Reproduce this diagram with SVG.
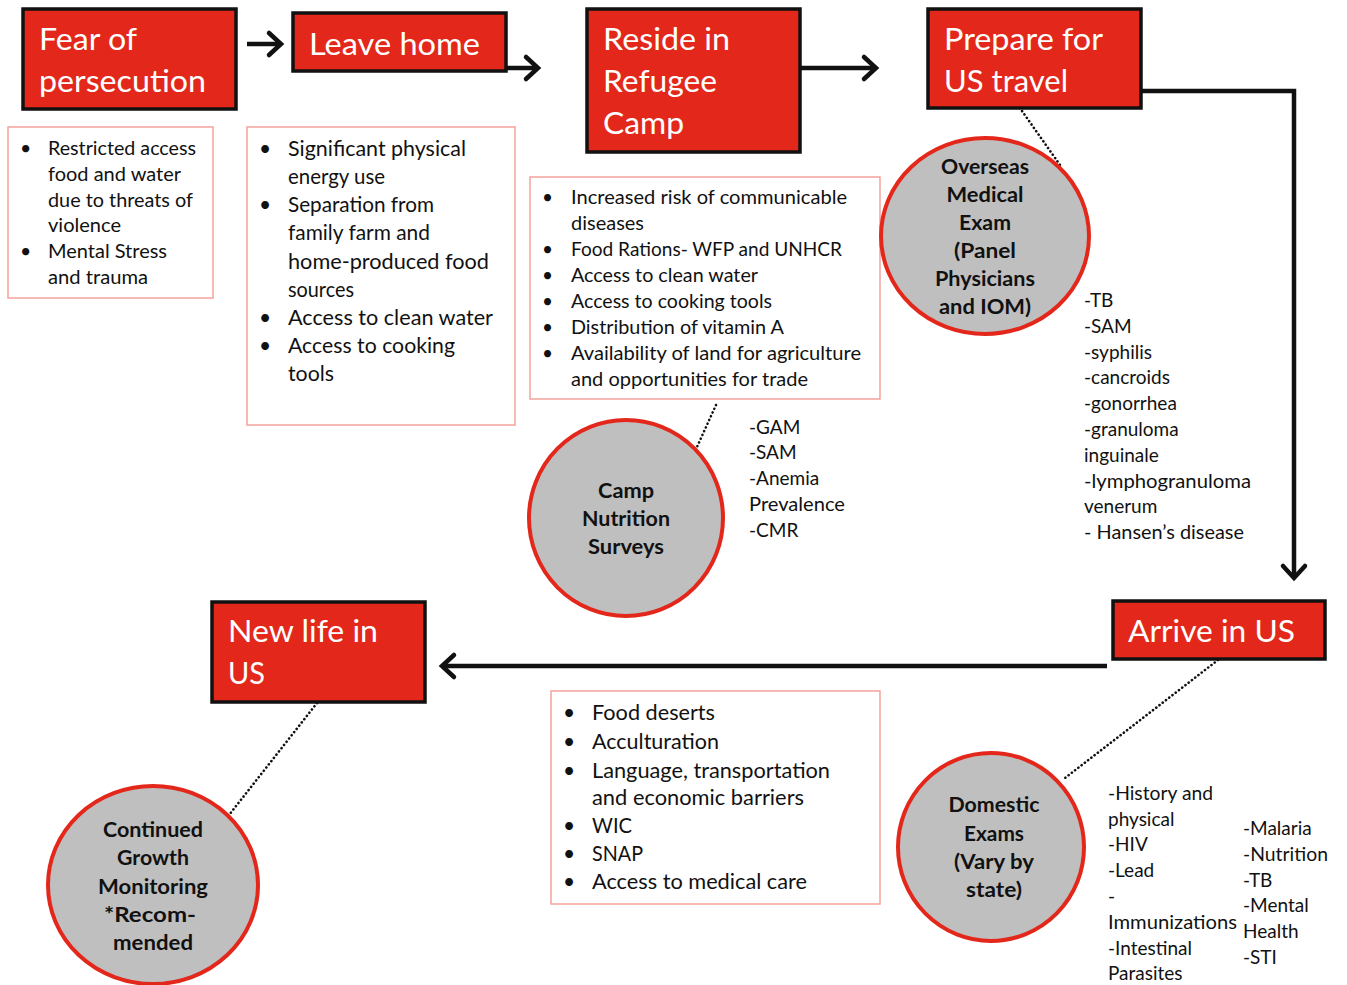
<svg xmlns="http://www.w3.org/2000/svg" width="1347" height="985" viewBox="0 0 1347 985">
<defs>
<style>
.box{fill:#e3281b;stroke:#111;stroke-width:3.5}
.title{font-family:Lato,"Liberation Sans",sans-serif;font-size:30px;fill:#fff}
.note{fill:#fff;stroke:#f3a39c;stroke-width:1.5}
.t{font-family:Lato,"Liberation Sans",sans-serif;fill:#111}
.c{fill:#bfbfbf;stroke:#e3281b;stroke-width:4}
.ct{font-family:Lato,"Liberation Sans",sans-serif;font-weight:bold;font-size:20px;fill:#111;text-anchor:middle}
.arr{fill:none;stroke:#111;stroke-width:4.5}
.dot{fill:none;stroke:#111;stroke-width:2.6;stroke-dasharray:0.1 4;stroke-linecap:round}
</style>
<marker id="ah" markerUnits="userSpaceOnUse" markerWidth="30" markerHeight="30" viewBox="-16 -15 20 30" refX="0" refY="0" orient="auto">
<path d="M-12,-11 L0,0 L-12,11" fill="none" stroke="#111" stroke-width="4.5" stroke-linecap="round" stroke-linejoin="miter"/>
</marker>
</defs>
<rect width="1347" height="985" fill="#fff"/>

<g id="connectors">
<line class="arr" x1="247" y1="44" x2="281" y2="44" marker-end="url(#ah)"/>
<line class="arr" x1="506" y1="68" x2="538" y2="68" marker-end="url(#ah)"/>
<line class="arr" x1="800" y1="68" x2="876" y2="68" marker-end="url(#ah)"/>
<polyline class="arr" points="1141,91 1294,91 1294,578" marker-end="url(#ah)"/>
<line class="arr" x1="1107" y1="666" x2="442" y2="666" marker-end="url(#ah)"/>
<line class="dot" x1="1015" y1="101" x2="1060" y2="165"/>
<line class="dot" x1="716" y1="405" x2="697" y2="447"/>
<line class="dot" x1="317" y1="703" x2="229" y2="815"/>
<line class="dot" x1="1218" y1="660" x2="1065" y2="778"/>
</g>

<g id="fear">
<rect class="box" x="23" y="9" width="213" height="100"/>
<text class="title" x="39" y="50" textLength="98" lengthAdjust="spacingAndGlyphs">Fear of</text>
<text class="title" x="39" y="92" textLength="167" lengthAdjust="spacingAndGlyphs">persecution</text>
</g>
<g id="leave">
<rect class="box" x="293" y="13" width="213" height="58"/>
<text class="title" x="309" y="55" textLength="171" lengthAdjust="spacingAndGlyphs">Leave home</text>
</g>
<g id="reside">
<rect class="box" x="587" y="9" width="213" height="143"/>
<text class="title" x="603" y="50" textLength="127" lengthAdjust="spacingAndGlyphs">Reside in</text>
<text class="title" x="603" y="92" textLength="114" lengthAdjust="spacingAndGlyphs">Refugee</text>
<text class="title" x="603" y="134" textLength="81" lengthAdjust="spacingAndGlyphs">Camp</text>
</g>
<g id="prepare">
<rect class="box" x="928" y="9" width="213" height="99"/>
<text class="title" x="944" y="50" textLength="159" lengthAdjust="spacingAndGlyphs">Prepare for</text>
<text class="title" x="944" y="92" textLength="124" lengthAdjust="spacingAndGlyphs">US travel</text>
</g>
<g id="newlife">
<rect class="box" x="212" y="602" width="213" height="100"/>
<text class="title" x="228" y="642" textLength="150" lengthAdjust="spacingAndGlyphs">New life in</text>
<text class="title" x="228" y="684" textLength="37" lengthAdjust="spacingAndGlyphs">US</text>
</g>
<g id="arrive">
<rect class="box" x="1113" y="601" width="212" height="58"/>
<text class="title" x="1128" y="642" textLength="167" lengthAdjust="spacingAndGlyphs">Arrive in US</text>
</g>

<g id="note1">
<rect class="note" x="8" y="127" width="205" height="171"/>
<g class="t" font-size="19.5">
<text x="20" y="155">•</text><text x="20" y="258">•</text>
<text x="48" y="155" textLength="148" lengthAdjust="spacingAndGlyphs">Restricted access</text>
<text x="48" y="181" textLength="133" lengthAdjust="spacingAndGlyphs">food and water</text>
<text x="48" y="207" textLength="145" lengthAdjust="spacingAndGlyphs">due to threats of</text>
<text x="48" y="232" textLength="73" lengthAdjust="spacingAndGlyphs">violence</text>
<text x="48" y="258" textLength="119" lengthAdjust="spacingAndGlyphs">Mental Stress</text>
<text x="48" y="284" textLength="100" lengthAdjust="spacingAndGlyphs">and trauma</text>
</g>
</g>

<g id="note2">
<rect class="note" x="247" y="127" width="268" height="298"/>
<g class="t" font-size="21">
<text x="259" y="156">•</text><text x="259" y="212">•</text><text x="259" y="325">•</text><text x="259" y="353">•</text>
<text x="288" y="156" textLength="178" lengthAdjust="spacingAndGlyphs">Significant physical</text>
<text x="288" y="184" textLength="97" lengthAdjust="spacingAndGlyphs">energy use</text>
<text x="288" y="212" textLength="146" lengthAdjust="spacingAndGlyphs">Separation from</text>
<text x="288" y="240" textLength="142" lengthAdjust="spacingAndGlyphs">family farm and</text>
<text x="288" y="269" textLength="201" lengthAdjust="spacingAndGlyphs">home-produced food</text>
<text x="288" y="297" textLength="66" lengthAdjust="spacingAndGlyphs">sources</text>
<text x="288" y="325" textLength="205" lengthAdjust="spacingAndGlyphs">Access to clean water</text>
<text x="288" y="353" textLength="167" lengthAdjust="spacingAndGlyphs">Access to cooking</text>
<text x="288" y="381" textLength="46" lengthAdjust="spacingAndGlyphs">tools</text>
</g>
</g>

<g id="note3">
<rect class="note" x="530" y="177" width="350" height="222"/>
<g class="t" font-size="19">
<text x="542" y="204">•</text><text x="542" y="256">•</text><text x="542" y="282">•</text><text x="542" y="308">•</text><text x="542" y="334">•</text><text x="542" y="360">•</text>
<text x="571" y="204" textLength="276" lengthAdjust="spacingAndGlyphs">Increased risk of communicable</text>
<text x="571" y="230" textLength="73" lengthAdjust="spacingAndGlyphs">diseases</text>
<text x="571" y="256" textLength="271" lengthAdjust="spacingAndGlyphs">Food Rations- WFP and UNHCR</text>
<text x="571" y="282" textLength="187" lengthAdjust="spacingAndGlyphs">Access to clean water</text>
<text x="571" y="308" textLength="201" lengthAdjust="spacingAndGlyphs">Access to cooking tools</text>
<text x="571" y="334" textLength="213" lengthAdjust="spacingAndGlyphs">Distribution of vitamin A</text>
<text x="571" y="360" textLength="290" lengthAdjust="spacingAndGlyphs">Availability of land for agriculture</text>
<text x="571" y="386" textLength="237" lengthAdjust="spacingAndGlyphs">and opportunities for trade</text>
</g>
</g>

<g id="note4">
<rect class="note" x="551" y="691" width="329" height="213"/>
<g class="t" font-size="21">
<text x="563" y="720">•</text><text x="563" y="749">•</text><text x="563" y="778">•</text><text x="563" y="833">•</text><text x="563" y="861">•</text><text x="563" y="889">•</text>
<text x="592" y="720" textLength="123" lengthAdjust="spacingAndGlyphs">Food deserts</text>
<text x="592" y="749" textLength="127" lengthAdjust="spacingAndGlyphs">Acculturation</text>
<text x="592" y="778" textLength="238" lengthAdjust="spacingAndGlyphs">Language, transportation</text>
<text x="592" y="805" textLength="212" lengthAdjust="spacingAndGlyphs">and economic barriers</text>
<text x="592" y="833" textLength="40" lengthAdjust="spacingAndGlyphs">WIC</text>
<text x="592" y="861" textLength="51" lengthAdjust="spacingAndGlyphs">SNAP</text>
<text x="592" y="889" textLength="215" lengthAdjust="spacingAndGlyphs">Access to medical care</text>
</g>
</g>

<g id="overseas">
<ellipse class="c" cx="985" cy="236" rx="104" ry="98"/>
<text class="ct" x="985" y="174" textLength="88" lengthAdjust="spacingAndGlyphs">Overseas</text>
<text class="ct" x="985" y="202" textLength="77" lengthAdjust="spacingAndGlyphs">Medical</text>
<text class="ct" x="985" y="230" textLength="52" lengthAdjust="spacingAndGlyphs">Exam</text>
<text class="ct" x="985" y="258" textLength="62" lengthAdjust="spacingAndGlyphs">(Panel</text>
<text class="ct" x="985" y="286" textLength="100" lengthAdjust="spacingAndGlyphs">Physicians</text>
<text class="ct" x="985" y="314" textLength="92" lengthAdjust="spacingAndGlyphs">and IOM)</text>
</g>
<g id="camp">
<ellipse class="c" cx="626" cy="518" rx="97" ry="98"/>
<text class="ct" x="626" y="498" textLength="56" lengthAdjust="spacingAndGlyphs">Camp</text>
<text class="ct" x="626" y="526" textLength="88" lengthAdjust="spacingAndGlyphs">Nutrition</text>
<text class="ct" x="626" y="554" textLength="76" lengthAdjust="spacingAndGlyphs">Surveys</text>
</g>
<g id="growth">
<ellipse class="c" cx="153" cy="885" rx="105" ry="99"/>
<text class="ct" x="153" y="837" textLength="100" lengthAdjust="spacingAndGlyphs">Continued</text>
<text class="ct" x="153" y="865" textLength="72" lengthAdjust="spacingAndGlyphs">Growth</text>
<text class="ct" x="153" y="894" textLength="110" lengthAdjust="spacingAndGlyphs">Monitoring</text>
<text class="ct" x="150" y="922" textLength="92" lengthAdjust="spacingAndGlyphs">*Recom-</text>
<text class="ct" x="153" y="950" textLength="80" lengthAdjust="spacingAndGlyphs">mended</text>
</g>
<g id="domestic">
<ellipse class="c" cx="991" cy="847" rx="93" ry="94"/>
<text class="ct" x="994" y="812" textLength="91" lengthAdjust="spacingAndGlyphs">Domestic</text>
<text class="ct" x="994" y="841" textLength="60" lengthAdjust="spacingAndGlyphs">Exams</text>
<text class="ct" x="994" y="869" textLength="80" lengthAdjust="spacingAndGlyphs">(Vary by</text>
<text class="ct" x="994" y="897" textLength="56" lengthAdjust="spacingAndGlyphs">state)</text>
</g>

<g id="camp-list" class="t" font-size="19">
<text x="749" y="434">-GAM</text>
<text x="749" y="459">-SAM</text>
<text x="749" y="485">-Anemia</text>
<text x="749" y="511" textLength="96" lengthAdjust="spacingAndGlyphs">Prevalence</text>
<text x="749" y="537">-CMR</text>
</g>
<g id="overseas-list" class="t" font-size="19">
<text x="1084" y="307">-TB</text>
<text x="1084" y="333">-SAM</text>
<text x="1084" y="359">-syphilis</text>
<text x="1084" y="384">-cancroids</text>
<text x="1084" y="410">-gonorrhea</text>
<text x="1084" y="436">-granuloma</text>
<text x="1084" y="462">inguinale</text>
<text x="1084" y="488" textLength="167" lengthAdjust="spacingAndGlyphs">-lymphogranuloma</text>
<text x="1084" y="513">venerum</text>
<text x="1084" y="539" textLength="160" lengthAdjust="spacingAndGlyphs">- Hansen’s disease</text>
</g>
<g id="domestic-list" class="t" font-size="19">
<text x="1108" y="800" textLength="105" lengthAdjust="spacingAndGlyphs">-History and</text>
<text x="1108" y="826">physical</text>
<text x="1108" y="851">-HIV</text>
<text x="1108" y="877">-Lead</text>
<text x="1108" y="903">-</text>
<text x="1108" y="929" textLength="129" lengthAdjust="spacingAndGlyphs">Immunizations</text>
<text x="1108" y="955">-Intestinal</text>
<text x="1108" y="980">Parasites</text>
<text x="1243" y="835">-Malaria</text>
<text x="1243" y="861" textLength="85" lengthAdjust="spacingAndGlyphs">-Nutrition</text>
<text x="1243" y="887">-TB</text>
<text x="1243" y="912">-Mental</text>
<text x="1243" y="938">Health</text>
<text x="1243" y="964">-STI</text>
</g>
</svg>
